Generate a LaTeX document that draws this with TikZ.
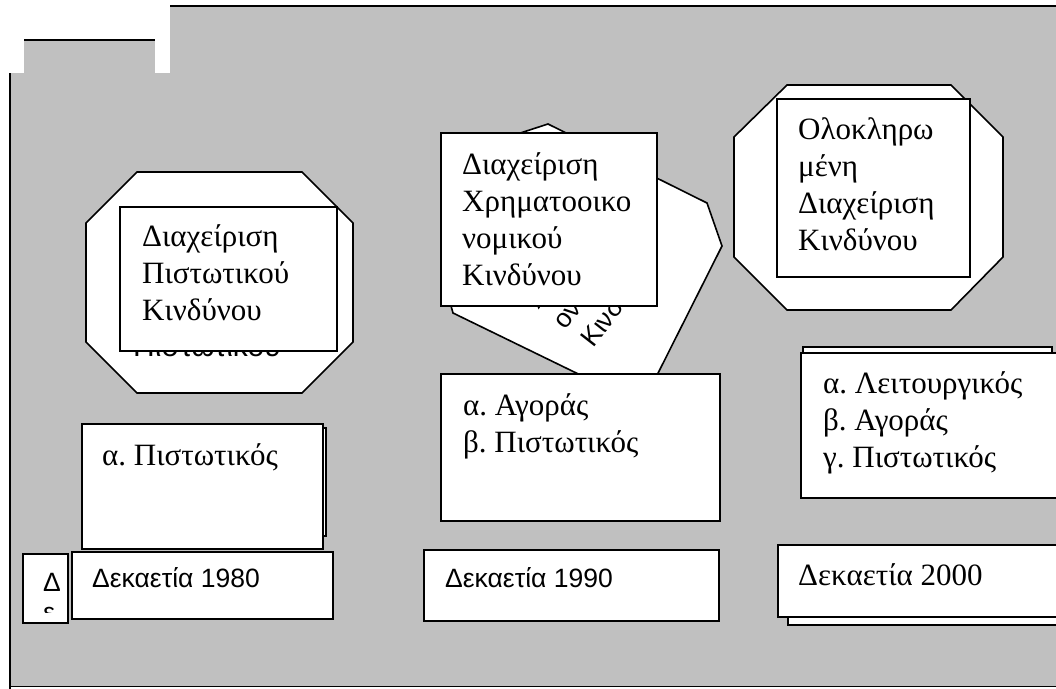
\documentclass[tikz,border=0pt]{standalone}
\usepackage{fontspec}
\setmainfont{Liberation Serif}
\newfontfamily\arialfont{Liberation Sans}
\usepackage{xcolor}
\usepackage{tikz}

\definecolor{panelgrey}{HTML}{C0C0C0}
\newcommand{\bigserif}{\fontsize{31}{37}\selectfont}
\newcommand{\bigsans}{\arialfont\fontsize{26.5}{30}\selectfont}

\begin{document}
\frenchspacing
\begin{tikzpicture}[
  x=1pt, y=-1pt,
  panel/.style={fill=panelgrey, draw=none},
  rim/.style={line width=2.6pt},
  octo/.style={draw, fill=white, line width=1.6pt},
  box/.style={draw, fill=white, line width=2pt},
  % anchored at the baseline of the last line
  serif/.style={anchor=base west, align=left, inner sep=0pt, font=\bigserif},
  sans/.style={anchor=base west, align=left, inner sep=0pt, font=\bigsans},
]
\useasboundingbox (0,0) rectangle (1056,688);
\clip (0,0) rectangle (1056,688);
% folder background
\fill[panel] (170,6) rectangle (1060,686);
\fill[panel] (10,73) rectangle (1060,686);
\fill[panel] (24,40) rectangle (155,73);
\draw[rim] (170,6) -- (1060,6);
\draw[rim] (24,40) -- (155,40);
\draw[rim] (10,73) -- (10,690);
\draw[line width=1pt] (10,686) -- (1060,686);

% 1980s: credit risk
\draw[octo] (137,172) -- (302,172) -- (353,223) -- (353,342) -- (302,393)
  -- (137,393) -- (86,342) -- (86,223) -- cycle;
\node[sans, font=\arialfont\fontsize{30}{36}\selectfont] (hid80) at (133,356) {Πιστωτικού};
\draw[box] (120,207) rectangle (337,351);
\node[serif] (crm80) at (142,320) {Διαχείριση\\Πιστωτικού\\Κινδύνου};

% 1990s: financial risk (tilted shape)
\coordinate (m1) at (548,124);
\coordinate (m2) at (707,203);
\coordinate (m3) at (722,246);
\coordinate (m4) at (642,405);
\coordinate (m5) at (453,313);
\coordinate (m6) at (441,270);
\coordinate (m7) at (508,137);
\draw[octo] (m1) -- (m2) -- (m3) -- (m4) -- (m5) -- (m6) -- (m7) -- cycle;
\begin{scope}
  \clip (m1) -- (m2) -- (m3) -- (m4) -- (m5) -- (m6) -- (m7) -- cycle;
  \node[sans, rotate=52] (tiltA) at (538,311) {Χρηματοοικ};
  \node[sans, rotate=52] (tiltB) at (565,331) {ονομικού};
  \node[sans, rotate=52] (tiltC) at (593,349) {Κινδύνου};
\end{scope}
\draw[box] (441,133) rectangle (657,306);
\node[serif] (frm90) at (462,285) {Διαχείριση\\Χρηματοοικο\\νομικού\\Κινδύνου};

% 2000s: enterprise risk
\draw[octo] (787,85) -- (951,85) -- (1003,137) -- (1003,257) -- (951,310)
  -- (787,310) -- (734,257) -- (734,137) -- cycle;
\draw[box] (777,99) rectangle (970,277);
\node[serif] (erm00) at (798,250) {Ολοκληρω\\μένη\\Διαχείριση\\Κινδύνου};

% risk lists
\draw[box] (86,428) rectangle (326,536);
\draw[box] (82,424) rectangle (323,549);
\node[serif] (list80) at (102,465) {α. Πιστωτικός};

\draw[box] (441,374) rectangle (720,521);
\node[serif] (list90) at (463,452) {α. Αγοράς\\β. Πιστωτικός};

\draw[box] (803,347) rectangle (1052,490);
\draw[box] (801,353) rectangle (1070,498);
\node[serif] (list00) at (823,467) {α. Λειτουργικός\\β. Αγοράς\\γ. Πιστωτικός};

% decades
\draw[box] (23,554) rectangle (68,623);
\begin{scope}
  \clip (23,554) rectangle (68,612);
  \node[sans] (stub) at (43,621) {Δ\\ε};
\end{scope}
\draw[box] (72,552) rectangle (333,619);
\node[sans] (dec80) at (92,587) {Δεκαετία 1980};
\draw[box] (424,550) rectangle (719,621);
\node[sans] (dec90) at (445,587) {Δεκαετία 1990};
\draw[box] (788,553) rectangle (1070,625);
\draw[box] (778,545) rectangle (1070,617);
\node[serif] (dec00) at (798,585) {Δεκαετία 2000};
\end{tikzpicture}
\end{document}
